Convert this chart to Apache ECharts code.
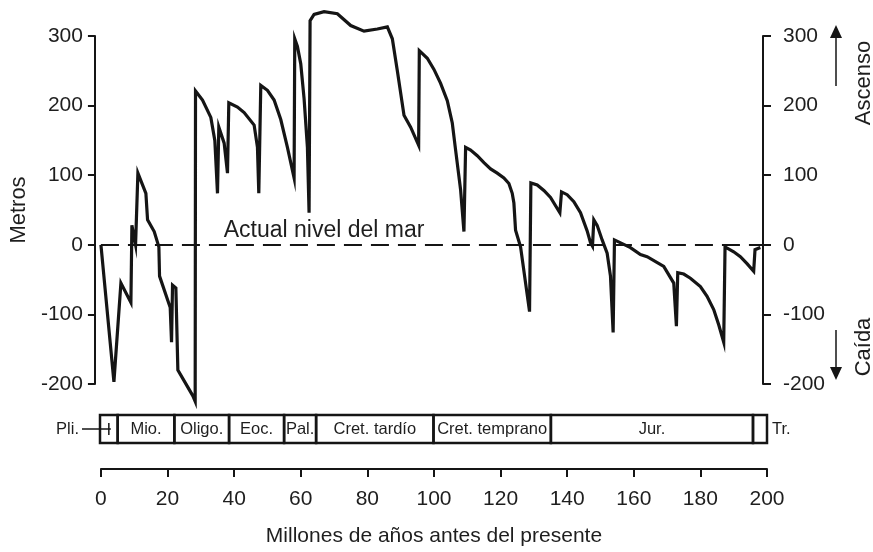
<!DOCTYPE html>
<html>
<head>
<meta charset="utf-8">
<script src="https://cdn.jsdelivr.net/npm/echarts@6/dist/echarts.min.js"></script>
<style>
  html, body { margin: 0; padding: 0; background: #fff; }
  #chart { width: 873px; height: 552px; }
</style>
</head>
<body>
<div id="chart"></div>
<script>
// curva del nivel del mar (millones de años, metros)
var ages = [0, 3.9, 6.0, 9.0, 9.3, 9.9, 10.4, 11.1, 13.5, 14.0, 16.0, 17.4, 17.6, 20.8, 21.2, 21.5, 22.5, 23.1,
    27.6, 28.3, 28.4, 30.5, 33, 34.2, 35, 35.4, 37, 38, 38.4, 41, 43, 46, 47, 47.4, 48, 50, 52, 54, 56, 58,
    58.2, 59, 60, 61, 62, 62.5, 62.8,
    64, 67, 71, 75, 79, 83, 86, 87.5, 89, 91, 93, 95.4, 95.6, 98, 100, 102, 104, 105.5, 106.5, 108, 109,
    109.5, 111, 113, 115, 117, 119, 121, 122.5, 123.5, 124, 124.5, 126, 128.7,
    129.1, 131, 133, 135, 137.8, 138.3, 140, 142, 144, 146, 147, 147.6, 148, 149, 150.5, 152, 153, 153.8,
    154.2, 159, 162, 164, 169, 172, 172.8, 173.2, 175, 177, 180, 182, 184, 185.5, 187,
    187.4, 190, 192, 194, 196, 196.4, 198];
var levels = [0, -197, -55, -83, 28, 12, 0, 103, 74, 36, 19, -3, -45, -90, -140, -58, -62, -180,
    -217, -225, 221, 208, 183, 150, 74, 169, 146, 103, 204, 198, 190, 172, 140, 74, 229, 222, 208, 180, 140, 96,
    296, 285, 260, 210, 140, 46, 322,
    331, 335, 332, 315, 307, 310, 313, 296, 250, 186, 169, 143, 279, 268, 252, 232, 207, 175, 136, 79, 19,
    140, 136, 128, 118, 109, 103, 96, 88, 74, 60, 21, -3, -96,
    89, 86, 78, 68, 46, 76, 72, 62, 46, 20, 3, -2, 36, 28, 7, -12, -45, -126,
    7, -4, -14, -17, -31, -55, -117, -40, -42, -48, -60, -74, -93, -115, -140,
    -3, -10, -17, -27, -38, -7, -4];

// periodos geológicos
var periodNames = ['Pli.', 'Mio.', 'Oligo.', 'Eoc.', 'Pal.', 'Cret. tardío', 'Cret. temprano', 'Jur.', 'Tr.'];
var periodStart = [0, 5.3, 22.3, 38.7, 55.2, 64.8, 100, 135.2, 195.8];
var periodEnd = [5.3, 22.3, 38.7, 55.2, 64.8, 100, 135.2, 195.8, 200];

var xTicks = { min: 0, max: 200, interval: 20 };
var yTicks = { min: -200, max: 300, interval: 100 };

var seaData = ages.map(function (a, i) { return [a, levels[i]]; });
var periodData = periodStart.map(function (s, i) { return [s, periodEnd[i]]; });

var ink = '#151515';
var txt = '#1e1e1e';
var fam = '"Liberation Sans", Arial, sans-serif';

function renderPeriod(params, api) {
    var i = params.dataIndex;
    var p0 = api.coord([api.value(0), 1]);
    var p1 = api.coord([api.value(1), 0]);
    var midY = (p0[1] + p1[1]) / 2;
    var children = [{
        type: 'rect',
        shape: { x: p0[0], y: p0[1], width: p1[0] - p0[0], height: p1[1] - p0[1] },
        style: { fill: 'none', stroke: ink, lineWidth: 2.5 }
    }];
    var label = { text: periodNames[i], fontSize: 16.5, fontFamily: fam, fill: txt, verticalAlign: 'middle' };
    if (i === 0) {
        var cx = (p0[0] + p1[0]) / 2;
        children.push({ type: 'line', shape: { x1: p0[0] - 18, y1: midY, x2: cx + 2, y2: midY },
            style: { stroke: ink, lineWidth: 1.5 } });
        children.push({ type: 'line', shape: { x1: cx, y1: midY - 6, x2: cx, y2: midY + 6 },
            style: { stroke: ink, lineWidth: 1.5 } });
        label.x = p0[0] - 21; label.y = midY; label.align = 'right';
    } else if (i === periodNames.length - 1) {
        label.x = p1[0] + 5; label.y = midY; label.align = 'left';
    } else {
        label.x = (p0[0] + p1[0]) / 2; label.y = midY; label.align = 'center';
    }
    children.push({ type: 'text', style: label });
    return { type: 'group', children: children };
}

var chart = echarts.init(document.getElementById('chart'));
chart.setOption({
    animation: false,
    backgroundColor: '#fff',
    textStyle: { fontFamily: fam },
    grid: [
        { left: 100, right: 106, top: 36, bottom: 166 },
        { left: 100, right: 106, top: 415, height: 28 }
    ],
    xAxis: [{
        type: 'value', gridIndex: 0, min: xTicks.min, max: xTicks.max, interval: xTicks.interval,
        position: 'bottom', offset: 85,
        axisLine: { show: true, onZero: false, lineStyle: { color: ink, width: 2 } },
        axisTick: { show: true, length: 8, lineStyle: { color: ink, width: 2 } },
        axisLabel: { fontSize: 21, color: txt, margin: 20 },
        splitLine: { show: false },
        name: 'Millones de años antes del presente', nameLocation: 'middle', nameGap: 57,
        nameTextStyle: { fontSize: 21, color: txt }
    }, {
        type: 'value', gridIndex: 1, min: xTicks.min, max: xTicks.max, show: false
    }],
    yAxis: [{
        type: 'value', gridIndex: 0, min: yTicks.min, max: yTicks.max, interval: yTicks.interval,
        position: 'left', offset: 6,
        axisLine: { show: true, onZero: false, lineStyle: { color: ink, width: 2 } },
        axisTick: { show: true, length: 7, lineStyle: { color: ink, width: 2 } },
        axisLabel: { fontSize: 21, color: txt, margin: 12 },
        splitLine: { show: false },
        name: 'Metros', nameLocation: 'middle', nameGap: 52,
        nameTextStyle: { fontSize: 22, color: txt }
    }, {
        type: 'value', gridIndex: 0, min: yTicks.min, max: yTicks.max, interval: yTicks.interval,
        position: 'right', offset: -4,
        axisLine: { show: true, onZero: false, lineStyle: { color: ink, width: 2 } },
        axisTick: { show: true, length: 8, lineStyle: { color: ink, width: 2 } },
        axisLabel: { fontSize: 21, color: txt, margin: 20 },
        splitLine: { show: false }
    }, {
        type: 'value', gridIndex: 1, min: 0, max: 1, show: false
    }],
    graphic: [
        { type: 'text', x: 864, y: 83, rotation: Math.PI / 2,
          style: { text: 'Ascenso', fontSize: 22, fontFamily: fam, fill: txt, align: 'center', verticalAlign: 'middle' } },
        { type: 'text', x: 864, y: 347, rotation: Math.PI / 2,
          style: { text: 'Caída', fontSize: 22, fontFamily: fam, fill: txt, align: 'center', verticalAlign: 'middle' } },
        { type: 'line', shape: { x1: 836, y1: 86, x2: 836, y2: 36 }, style: { stroke: ink, lineWidth: 1.5 } },
        { type: 'polygon', shape: { points: [[836, 25], [830, 38], [842, 38]] }, style: { fill: ink } },
        { type: 'line', shape: { x1: 836, y1: 330, x2: 836, y2: 368 }, style: { stroke: ink, lineWidth: 1.5 } },
        { type: 'polygon', shape: { points: [[836, 380], [830, 367], [842, 367]] }, style: { fill: ink } }
    ],
    series: [{
        type: 'line',
        xAxisIndex: 0, yAxisIndex: 0,
        data: seaData,
        showSymbol: false,
        clip: false,
        lineStyle: { color: ink, width: 3.2, join: 'miter' },
        markLine: {
            silent: true,
            symbol: ['none', 'none'],
            label: { show: false },
            lineStyle: { type: [18, 9], color: ink, width: 2 },
            data: [{ yAxis: 0 }]
        },
        markPoint: {
            silent: true,
            symbolSize: 0,
            label: { show: true, position: 'inside', offset: [0, -14], fontSize: 23, color: txt,
                formatter: 'Actual nivel del mar' },
            data: [{ coord: [67, 0] }]
        }
    }, {
        type: 'custom',
        xAxisIndex: 1, yAxisIndex: 2,
        renderItem: renderPeriod,
        encode: { x: [0, 1] },
        data: periodData,
        silent: true
    }]
});
</script>
</body>
</html>
